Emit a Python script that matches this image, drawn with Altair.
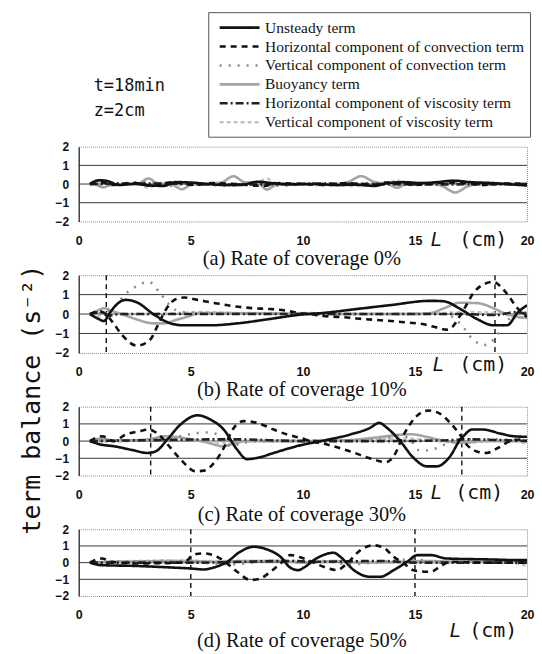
import altair as alt
import pandas as pd

TERMS = [
    "Unsteady term",
    "Horizontal component of convection term",
    "Vertical component of convection term",
    "Buoyancy term",
    "Horizontal component of viscosity term",
    "Vertical component of viscosity term",
]
COLORS = ["#111111", "#111111", "#8a8a8a", "#a4a4a4", "#222222", "#c2c2c2"]
DASHES = [[1, 0], [6, 5], [2, 7], [1, 0], [8, 3, 2, 3], [4, 3]]
WIDTHS = [2.6, 2.6, 1.6, 3.2, 1.3, 1.4]
DRAW_ORDER = [5, 3, 2, 4, 1, 0]

X_TICKS = [0, 5, 10, 15, 20]
Y_TICKS = [-2, -1, 0, 1, 2]
GRID_Y = [-1, 0, 1]

# (a) coverage 0 %
A_UNSTEADY = [(0.5, 0), (0.9, 0.2), (1.3, 0.15), (1.8, -0.05), (2.5, 0.0), (3.2, -0.08), (3.8, -0.1),
              (4.3, 0.1), (5.0, 0.08), (5.8, 0.0), (6.5, -0.05), (7.2, -0.05), (8.0, 0.12), (8.6, 0.05),
              (9.5, -0.02), (10.5, 0.0), (11.5, -0.05), (12.3, -0.03), (13.2, -0.1), (13.8, 0.05),
              (14.5, 0.1), (15.3, 0.05), (16.0, 0.1), (16.7, 0.18), (17.5, 0.1), (18.5, 0.05),
              (19.3, -0.02), (20, -0.08)]
A_HCONV = [(0.5, 0), (1.0, 0.1), (1.5, -0.05), (2.5, 0.05), (3.3, -0.1), (4.2, 0.1), (5.2, -0.05),
           (6.0, 0.05), (7.0, 0.0), (8.2, -0.1), (9.0, 0.05), (10.0, 0.0), (11.0, -0.05), (12.0, 0.05),
           (13.0, -0.05), (14.0, 0.1), (15.0, -0.05), (16.0, 0.05), (17.0, 0.08), (18.0, -0.05),
           (19.0, 0.03), (20, 0)]
A_VCONV = [(0.5, 0), (1.0, -0.1), (2.0, 0.05), (3.0, 0.1), (4.0, -0.1), (5.0, 0.05), (6.5, -0.1),
           (8.0, 0.1), (9.0, -0.1), (10.5, 0.05), (12.0, -0.05), (13.5, 0.1), (15.0, -0.05),
           (16.5, 0.1), (18.0, -0.05), (20, 0.05)]
A_BUOY = [(0.5, 0), (0.8, -0.05), (1.1, -0.18), (1.4, -0.05), (2.0, 0.0), (2.7, 0.05), (3.1, 0.3),
          (3.5, 0.05), (4.2, -0.05), (4.6, -0.28), (5.0, -0.05), (5.6, 0.0), (6.4, 0.1), (6.9, 0.42),
          (7.4, 0.1), (8.0, 0.05), (8.4, -0.3), (8.8, -0.05), (9.5, 0.0), (11.5, 0.0), (12.0, 0.1),
          (12.6, 0.42), (13.2, 0.1), (13.8, 0.0), (14.2, -0.2), (14.6, 0.0), (15.5, 0.05),
          (16.2, -0.1), (16.8, -0.45), (17.4, -0.1), (18, 0.0), (20, 0.0)]
A_HVISC = [(0.5, 0), (3, 0.03), (7, -0.03), (11, 0.02), (15, -0.02), (20, 0)]
A_VVISC = [(0.5, 0), (0.8, 0.1), (1.1, 0.22), (1.4, 0.1), (2.0, 0.0), (2.7, 0.0), (3.1, -0.2),
           (3.5, 0.0), (4.2, 0.1), (4.6, 0.15), (5.0, 0.0), (6.5, -0.05), (6.9, -0.1), (7.4, 0),
           (8.0, 0.1), (8.4, 0.28), (8.8, 0.05), (9.5, 0), (12.6, -0.1), (13.8, 0.05), (14.2, 0.2),
           (14.6, 0.05), (16.2, 0.1), (16.8, 0.15), (17.4, 0.0), (20, 0)]

# (b) coverage 10 %
B_UNSTEADY = [(0.5, 0), (0.8, -0.2), (1.13, -0.36), (1.35, 0.0), (1.7, 0.5), (2.09, 0.73), (2.6, 0.6),
              (3.36, -0.03), (4.1, -0.48), (4.69, -0.58), (5.88, -0.58), (7.07, -0.48), (8.55, -0.25),
              (9.9, -0.03), (10.93, 0.06), (12.41, 0.26), (13.9, 0.46), (15.68, 0.68), (16.27, 0.66),
              (17.02, 0.26), (17.76, -0.25), (18.5, -0.58), (19.1, -0.58), (19.6, 0.1), (20, 0.45)]
B_HCONV = [(0.5, 0), (0.9, 0.15), (1.2, 0.0), (1.5, -0.4), (1.95, -1.1), (2.6, -1.63), (3.2, -1.3),
           (3.5, -0.65), (3.9, 0.25), (4.3, 0.75), (4.7, 0.85), (5.3, 0.73), (6.1, 0.56), (7.0, 0.39),
           (7.8, 0.3), (8.5, 0.26), (9.3, 0.17), (9.8, 0.06), (10.3, 0.0), (10.9, -0.1), (11.7, -0.15),
           (12.4, -0.23), (13.6, -0.33), (14.5, -0.42), (15.4, -0.53), (16.0, -0.7), (16.4, -0.8),
           (16.7, -0.62), (17.0, -0.1), (17.3, 0.48), (17.6, 1.07), (18.0, 1.49), (18.5, 1.66),
           (18.9, 1.32), (19.2, 0.9), (19.5, 0.4), (19.8, 0.05), (20, -0.15)]
B_VCONV = [(0.5, 0), (1.2, 0.1), (1.7, 0.5), (2.1, 1.05), (2.54, 1.41), (3.13, 1.66), (3.58, 1.15),
           (4.1, 0.4), (4.6, 0.1), (5.5, 0.05), (10, 0.0), (15.5, 0.0), (16.2, 0.0), (16.6, -0.1),
           (17.1, -0.6), (17.5, -1.2), (18.05, -1.6), (18.6, -1.2), (18.95, -0.55), (19.4, -0.1),
           (20, 0.1)]
B_BUOY = [(0.5, 0), (0.8, 0.15), (1.13, 0.3), (1.5, 0.15), (2.1, -0.08), (2.6, -0.28), (3.36, -0.48),
          (3.8, -0.48), (4.4, -0.28), (5.0, -0.08), (5.3, 0.05), (6, 0.05), (9, 0.02), (12, 0.0),
          (15, 0.0), (15.7, 0.05), (16.3, 0.3), (17, 0.58), (17.8, 0.56), (18.5, 0.3), (18.95, 0.06),
          (19.4, -0.1), (20, -0.2)]
B_HVISC = [(0.5, 0), (1.0, 0.1), (1.3, -0.1), (1.8, 0.0), (10, 0.0), (17, 0.0), (18.6, -0.05),
           (19.5, 0.1), (20, 0)]
B_VVISC = [(0.5, 0), (1.0, -0.1), (1.3, 0.2), (1.7, 0.05), (2.5, 0.0), (4.5, 0.05), (5.5, 0.1),
           (7, 0.05), (10, 0.05), (13, 0.0), (16, 0.05), (17.5, 0.1), (19, 0.0), (19.5, -0.2),
           (20, -0.1)]

# (c) coverage 30 %
C_UNSTEADY = [(0.5, 0), (0.98, -0.2), (1.57, -0.3), (2.32, -0.5), (3.06, -0.69), (3.43, -0.6),
              (3.95, 0.09), (4.54, 0.96), (5.29, 1.5), (5.88, 1.25), (6.47, 0.67), (7.07, -0.5),
              (7.5, -1.05), (7.96, -0.98), (8.7, -0.69), (9.44, -0.4), (9.9, -0.24), (10.93, 0.03),
              (12.1, 0.38), (13.0, 0.77), (13.4, 1.06), (13.75, 0.77), (14.34, 0.0), (14.94, -0.98),
              (15.53, -1.47), (15.97, -1.47), (16.57, -0.88), (17.02, 0.09), (17.16, 0.28),
              (17.54, 0.67), (18.05, 0.67), (18.8, 0.44), (19.4, 0.28), (20, 0.25)]
C_HCONV = [(0.5, 0), (1.05, 0.28), (1.57, 0.0), (2.09, 0.38), (2.69, 0.57), (3.13, 0.67), (3.36, 0.57),
           (3.65, 0.28), (4.1, -0.4), (4.62, -1.17), (5.21, -1.76), (5.58, -1.72), (6.1, -1.17),
           (6.47, -0.4), (6.92, 0.77), (7.36, 1.16), (7.96, 1.06), (8.7, 0.67), (9.3, 0.38),
           (9.9, 0.18), (10.33, 0.0), (11.08, -0.2), (12.12, -0.6), (13.15, -1.07), (13.7, -1.23),
           (14.05, -0.88), (14.5, 0.38), (15.0, 1.35), (15.6, 1.78), (16.05, 1.64), (16.57, 1.06),
           (17.0, 0.38), (17.3, -0.2), (17.75, -0.6), (18.2, -0.69), (18.7, -0.4), (19.25, 0.0),
           (19.7, 0.09), (20, 0.0)]
C_VCONV = [(0.5, 0), (2, 0.05), (3.5, 0.05), (4.0, 0.1), (4.6, 0.3), (5.2, 0.45), (5.7, 0.5),
           (6.2, 0.4), (6.5, 0.0), (6.8, -0.3), (7.2, -0.15), (8, 0.0), (12, 0.0), (13.5, 0.1),
           (14.3, 0.35), (14.8, 0.1), (15.1, -0.5), (15.5, -0.55), (16.0, -0.4), (16.5, -0.1),
           (17.3, 0.1), (18.5, 0.1), (20, 0.05)]
C_BUOY = [(0.5, 0), (1.0, 0.15), (1.5, 0.05), (2.5, 0.05), (3.3, 0.15), (3.8, 0.28), (4.3, 0.25),
          (5.0, 0.1), (5.8, -0.1), (6.4, -0.3), (6.9, -0.15), (7.5, 0.0), (10, 0.0), (12, 0.05),
          (13.2, 0.2), (14.2, 0.35), (14.8, 0.4), (15.5, 0.25), (16, 0.1), (17.2, -0.1), (18, 0.0),
          (20, 0.0)]
C_HVISC = [(0.5, 0), (3, 0.05), (6.3, 0.1), (7, 0.1), (10, 0.0), (14, 0.0), (16.5, 0.05),
           (17.2, 0.1), (20, 0)]
C_VVISC = [(0.5, 0), (1.0, -0.05), (3.5, 0.1), (4.5, 0.15), (5.5, 0.0), (6.5, -0.1), (8, 0.05),
           (12, 0.05), (14.5, 0.15), (16, 0.0), (17, -0.1), (19, 0.05), (20, -0.15)]

# (d) coverage 50 %
D_UNSTEADY = [(0.5, 0), (0.98, -0.15), (2.6, -0.2), (4.1, -0.29), (5.0, -0.35), (5.58, -0.41),
              (6.03, -0.29), (6.62, 0.05), (7.2, 0.65), (7.8, 0.95), (8.4, 0.79), (9.0, 0.35),
              (9.44, -0.3), (9.8, -0.45), (10.04, -0.3), (10.6, 0.25), (11.37, 0.59), (11.67, 0.35),
              (12.27, -0.45), (13.0, -0.85), (13.45, -0.85), (14.05, -0.45), (14.65, 0.05),
              (15.1, 0.45), (15.7, 0.45), (16.4, 0.25), (18.35, 0.19), (19.7, 0.15), (20, 0.15)]
D_HCONV = [(0.5, 0), (1.05, 0.25), (1.43, 0.05), (2.5, -0.05), (4.5, 0.0), (4.9, 0.2), (5.06, 0.45),
           (5.58, 0.55), (6.18, 0.35), (6.62, -0.05), (7.07, -0.55), (7.66, -1.04), (8.1, -0.95),
           (8.55, -0.55), (9.0, -0.05), (9.44, 0.45), (10.04, 0.25), (10.93, -0.25), (11.52, -0.45),
           (11.97, -0.05), (12.57, 0.75), (13.15, 1.04), (13.6, 0.9), (14.05, 0.35), (14.5, -0.05),
           (15.0, -0.49), (15.7, -0.55), (16.1, -0.25), (16.57, 0.05), (18, 0.0), (20, 0.0)]
D_VCONV = [(0.5, 0), (1.5, 0.05), (4.5, 0.1), (5.5, 0.0), (7, -0.1), (8.5, 0.1), (10, 0.0),
           (11, 0.1), (12, -0.1), (13.5, 0.05), (15, 0.2), (16, 0.0), (20, 0.0)]
D_BUOY = [(0.5, 0), (1.5, 0.05), (3, 0.08), (5, 0.1), (6, 0.05), (7.5, 0.1), (9, 0.1), (10, 0.0),
          (11.5, 0.1), (12.5, 0.0), (14.5, 0.05), (15.5, 0.1), (17, 0.05), (20, 0.05)]
D_HVISC = [(0.5, 0), (5, 0.0), (9.5, 0.1), (10.5, 0.05), (13.5, 0.1), (15, 0.0), (20, 0.0)]
D_VVISC = [(0.5, 0), (2, 0.08), (4, 0.12), (5, 0.1), (7, 0.1), (9.5, 0.1), (10.5, 0.0), (12, 0.1),
           (14, 0.0), (16, 0.05), (19, 0.05), (20, -0.2)]

COVER_A = []
COVER_B = [1.23, 18.57]
COVER_C = [3.21, 17.09]
COVER_D = [5.0, 15.0]

CAPTIONS = ["(a) Rate of coverage 0%", "(b) Rate of coverage 10%",
            "(c) Rate of coverage 30%", "(d) Rate of coverage 50%"]

SERIES = {
    "a": [A_UNSTEADY, A_HCONV, A_VCONV, A_BUOY, A_HVISC, A_VVISC],
    "b": [B_UNSTEADY, B_HCONV, B_VCONV, B_BUOY, B_HVISC, B_VVISC],
    "c": [C_UNSTEADY, C_HCONV, C_VCONV, C_BUOY, C_HVISC, C_VVISC],
    "d": [D_UNSTEADY, D_HCONV, D_VCONV, D_BUOY, D_HVISC, D_VVISC],
}

rows = []
for p, series in SERIES.items():
    for k in DRAW_ORDER:
        for xv, yv in series[k]:
            rows.append({"panel": p, "term": TERMS[k], "L": xv, "v": yv})
df = pd.DataFrame(rows)

W = 450
TICK_FONT = "Liberation Sans"
GOTHIC = "DejaVu Sans Mono"


def legend():
    return alt.Legend(title=None, orient="none", legendX=130, legendY=-135, direction="vertical",
                      symbolType="M-2.5,0H2.5", symbolSize=256, symbolOffset=16,
                      labelFont="Liberation Serif", labelFontSize=15.5, labelColor="#111",
                      labelLimit=600, rowPadding=1, labelOffset=16, padding=6,
                      strokeColor="#555", fillColor="white")


def xenc(field):
    return alt.X(field, scale=alt.Scale(domain=[0, 20], nice=False, zero=False),
                 axis=alt.Axis(values=X_TICKS, title=None, domain=False, ticks=False, grid=False,
                               labelPadding=13, labelFont=TICK_FONT, labelFontSize=12.5,
                               labelFontWeight="bold", labelColor="#111", labelFlush=False,
                               format="d"))


def yenc(field):
    return alt.Y(field, scale=alt.Scale(domain=[-2, 2], nice=False, zero=False),
                 axis=alt.Axis(values=Y_TICKS, title=None, ticks=False, grid=False,
                               domainColor="#222", domainWidth=1.2, labelPadding=10,
                               labelFont=TICK_FONT, labelFontSize=12, labelFontWeight="bold",
                               labelColor="#111", format="d"))


def panel(key, h, covers, caption, lcm, cap_y, extra=()):
    d = df[df.panel == key]
    grid = alt.Chart(pd.DataFrame({"g": GRID_Y})).mark_rule(color="#3a3a3a", strokeWidth=1).encode(
        y=yenc("g:Q"))
    lines = alt.Chart(d).mark_line(interpolate="monotone", clip=True).encode(
        x=xenc("L:Q"), y=yenc("v:Q"),
        color=alt.Color("term:N", scale=alt.Scale(domain=TERMS, range=COLORS), legend=legend()),
        strokeDash=alt.StrokeDash("term:N", scale=alt.Scale(domain=TERMS, range=DASHES), legend=legend()),
        strokeWidth=alt.StrokeWidth("term:N", scale=alt.Scale(domain=TERMS, range=WIDTHS), legend=legend()),
    )
    layers = [grid]
    if covers:
        layers.append(alt.Chart(pd.DataFrame({"c": covers})).mark_rule(
            color="#111", strokeDash=[5, 4], strokeWidth=1.4).encode(x=xenc("c:Q")))
    layers.append(lines)
    cap = alt.Chart(pd.DataFrame({"t": [caption]})).mark_text(
        font="Liberation Serif", fontSize=20.5, color="#111", align="center", baseline="middle").encode(
        x=alt.value(224), y=alt.value(cap_y), text="t:N")
    lx, cmx, ly = lcm
    ltxt = alt.Chart(pd.DataFrame({"t": ["L"]})).mark_text(
        font="Liberation Sans", fontStyle="italic", fontSize=20, color="#111", align="center",
        baseline="middle").encode(x=alt.value(lx), y=alt.value(ly), text="t:N")
    cmtxt = alt.Chart(pd.DataFrame({"t": ["(cm)"]})).mark_text(
        font=GOTHIC, fontSize=20, color="#111", align="center", baseline="middle").encode(
        x=alt.value(cmx), y=alt.value(ly), text="t:N")
    layers += [cap, ltxt, cmtxt] + list(extra)
    return alt.layer(*layers).properties(width=W, height=h)


frame = alt.Chart(pd.DataFrame({"f": [0]})).mark_rect(fill="white", opacity=0).encode(
    x=alt.value(-78), x2=alt.value(464), y=alt.value(-145), y2=alt.value(509))
t1 = alt.Chart(pd.DataFrame({"t": ["t=18min"]})).mark_text(
    font=GOTHIC, fontSize=17, color="#111", align="left", baseline="middle").encode(
    x=alt.value(15), y=alt.value(-61), text="t:N")
t2 = alt.Chart(pd.DataFrame({"t": ["z=2cm"]})).mark_text(
    font=GOTHIC, fontSize=17, color="#111", align="left", baseline="middle").encode(
    x=alt.value(15), y=alt.value(-36), text="t:N")
ytitle = alt.Chart(pd.DataFrame({"t": ["term balance (s⁻²)"]})).mark_text(
    font=GOTHIC, fontSize=25, color="#111", align="center", baseline="middle", angle=270).encode(
    x=alt.value(-47), y=alt.value(125), text="t:N")

pa = panel("a", 75, COVER_A, CAPTIONS[0], (359, 406, 94), 113, extra=[frame, t1, t2])
pb = panel("b", 78, COVER_B, CAPTIONS[1], (361, 406, 90), 115, extra=[ytitle])
pc = panel("c", 69, COVER_C, CAPTIONS[2], (359, 402, 87), 109)
pd_ = panel("d", 67, COVER_D, CAPTIONS[3], (378, 416, 102), 112)

chart = alt.vconcat(pa, pb, pc, pd_, spacing=54, bounds="flush").properties(
    padding=0, background="white"
).configure_view(stroke="#8a8a8a", strokeDash=[1, 1], strokeWidth=1)

chart.save("out.html", embed_options={"renderer": "svg", "actions": False})
